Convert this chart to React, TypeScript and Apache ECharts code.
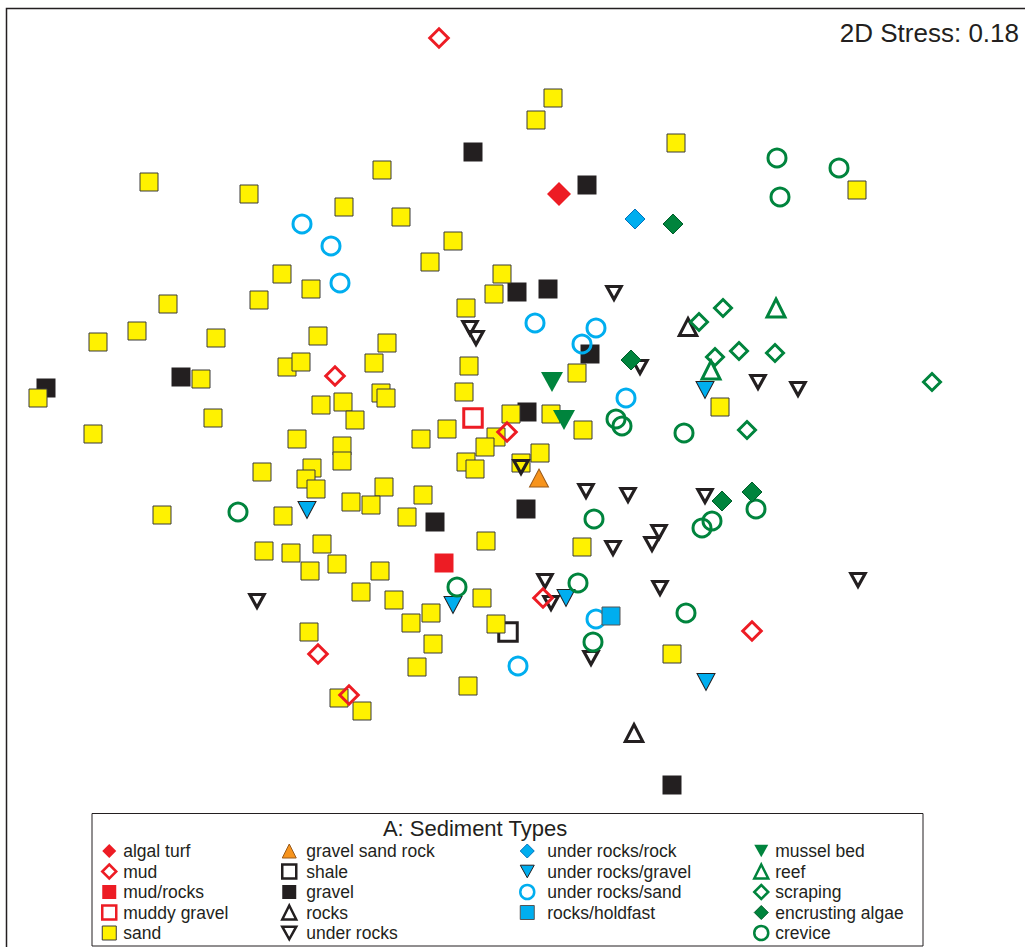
import React, { useEffect, useRef } from "react";
import * as echarts from "echarts";

const FONT = '"Liberation Sans", Arial, Helvetica, sans-serif';
const INK = "#231f20";
const RED = "#ed1c24";
const YELLOW = "#fff200";
const ORANGE = "#f7941d";
const CYAN = "#00aeef";
const GREEN = "#00843d";
const DOWN = "path://M0,0L20,0L10,18Z";

// ---- data (nMDS ordination coordinates, plot units; y grows downward) ----
const stressLabel = "2D Stress: 0.18";
const legendTitle = "A: Sediment Types";

const algalTurf = [[559, 194]];
const mud = [[439, 38], [335, 376], [507, 432], [543, 598], [318, 654], [349, 695], [752, 631]];
const mudRocks = [[444, 563]];
const muddyGravel = [[473, 418]];
const sand = [
  [553, 98], [536, 120], [676, 143], [857, 190], [149, 182], [249, 194], [382, 170], [344, 207],
  [401, 217], [453, 241], [430, 262], [502, 274], [494, 294], [466, 308], [282, 274], [311, 289],
  [259, 300], [168, 304], [137, 331], [98, 342], [216, 338], [318, 336], [387, 343], [287, 367],
  [301, 362], [374, 363], [469, 366], [201, 379], [38, 398], [464, 392], [381, 393], [386, 398],
  [321, 405], [343, 402], [355, 420], [213, 418], [93, 434], [297, 439], [421, 439], [447, 429],
  [342, 446], [342, 461], [511, 414], [496, 437], [485, 447], [466, 462], [475, 469], [262, 472],
  [312, 468], [306, 479], [316, 489], [283, 516], [384, 487], [351, 502], [371, 505], [423, 495],
  [407, 517], [486, 541], [322, 544], [291, 553], [264, 551], [162, 515], [577, 373], [551, 414],
  [583, 430], [540, 453], [521, 463], [582, 547], [720, 407], [310, 571], [337, 564], [380, 571],
  [361, 592], [394, 600], [482, 598], [431, 613], [411, 623], [496, 624], [309, 632], [433, 644],
  [417, 667], [468, 686], [339, 698], [362, 711], [672, 654],
];
const gravelSandRock = [[539, 478]];
const shale = [[508, 632]];
const gravel = [
  [473, 152], [587, 185], [517, 292], [548, 289], [590, 354], [181, 377], [46, 388], [527, 412],
  [526, 509], [435, 522], [672, 785],
];
const rocks = [[688, 327], [634, 733]];
const underRocks = [
  [614, 293], [470, 328], [476, 338], [640, 367], [758, 382], [798, 389], [521, 467], [586, 491],
  [628, 495], [705, 496], [659, 532], [652, 544], [613, 548], [545, 581], [551, 603], [660, 588],
  [591, 658], [257, 601], [858, 580],
];
const underRocksRock = [[635, 219]];
const underRocksGravel = [[307, 510], [705, 390], [453, 605], [566, 598], [706, 682]];
const underRocksSand = [
  [302, 224], [331, 246], [340, 283], [535, 323], [596, 328], [582, 344], [626, 398], [596, 619], [518, 666],
];
const rocksHoldfast = [[611, 616]];
const musselBed = [[552, 382], [564, 420]];
const reef = [[711, 370], [776, 308]];
const scraping = [[699, 322], [723, 308], [715, 357], [739, 351], [775, 353], [747, 430], [932, 382]];
const encrustingAlgae = [[673, 224], [631, 360], [722, 501], [752, 492]];
const crevice = [
  [777, 158], [839, 168], [780, 197], [616, 419], [622, 426], [684, 433], [594, 519], [756, 509],
  [712, 521], [702, 528], [238, 512], [457, 587], [578, 583], [593, 642], [686, 613],
];

const dataByName: Record<string, number[][]> = {
  "algal turf": algalTurf,
  mud: mud,
  "mud/rocks": mudRocks,
  "muddy gravel": muddyGravel,
  sand: sand,
  "gravel sand rock": gravelSandRock,
  shale: shale,
  gravel: gravel,
  rocks: rocks,
  "under rocks": underRocks,
  "under rocks/rock": underRocksRock,
  "under rocks/gravel": underRocksGravel,
  "under rocks/sand": underRocksSand,
  "rocks/holdfast": rocksHoldfast,
  "mussel bed": musselBed,
  reef: reef,
  scraping: scraping,
  "encrusting algae": encrustingAlgae,
  crevice: crevice,
};

// ---- styles ----
type MS = { symbol: string; size: number | number[]; color: string; borderColor?: string; borderWidth?: number };
const T = "rgba(255,255,255,0)";
const markStyle: Record<string, MS> = {
  "algal turf": { symbol: "diamond", size: 24, color: RED },
  mud: { symbol: "diamond", size: 18.5, color: T, borderColor: RED, borderWidth: 3 },
  "mud/rocks": { symbol: "rect", size: 19, color: RED },
  "muddy gravel": { symbol: "rect", size: 18.5, color: T, borderColor: RED, borderWidth: 3 },
  sand: { symbol: "rect", size: 18, color: YELLOW, borderColor: "#3a3a3a", borderWidth: 1 },
  "gravel sand rock": { symbol: "triangle", size: [19, 18], color: ORANGE, borderColor: "#9a5a1a", borderWidth: 1 },
  shale: { symbol: "rect", size: 18.5, color: T, borderColor: INK, borderWidth: 3 },
  gravel: { symbol: "rect", size: 19, color: INK },
  rocks: { symbol: "triangle", size: [17.5, 17], color: T, borderColor: INK, borderWidth: 3 },
  "under rocks": { symbol: DOWN, size: [14.5, 13], color: T, borderColor: INK, borderWidth: 3 },
  "under rocks/rock": { symbol: "diamond", size: 20, color: CYAN, borderColor: "#0072bc", borderWidth: 1 },
  "under rocks/gravel": { symbol: DOWN, size: [18, 17], color: CYAN, borderColor: INK, borderWidth: 1 },
  "under rocks/sand": { symbol: "circle", size: 18, color: T, borderColor: CYAN, borderWidth: 3 },
  "rocks/holdfast": { symbol: "rect", size: 18, color: CYAN, borderColor: "#555", borderWidth: 1 },
  "mussel bed": { symbol: DOWN, size: [22, 20], color: GREEN },
  reef: { symbol: "triangle", size: [18, 18], color: T, borderColor: GREEN, borderWidth: 3 },
  scraping: { symbol: "diamond", size: 17, color: T, borderColor: GREEN, borderWidth: 3 },
  "encrusting algae": { symbol: "diamond", size: 20, color: GREEN, borderColor: "#005c2a", borderWidth: 1 },
  crevice: { symbol: "circle", size: 18, color: T, borderColor: GREEN, borderWidth: 3 },
};

const drawOrder = [
  "shale", "gravel", "sand", "mud/rocks", "muddy gravel", "gravel sand rock", "rocks", "under rocks",
  "algal turf", "mud", "under rocks/rock", "under rocks/sand", "under rocks/gravel", "rocks/holdfast",
  "crevice", "mussel bed", "reef", "scraping", "encrusting algae",
];

const legendColumns = [
  { names: ["algal turf", "mud", "mud/rocks", "muddy gravel", "sand"], marker: 108, text: 122 },
  { names: ["gravel sand rock", "shale", "gravel", "rocks", "under rocks"], marker: 288, text: 305 },
  { names: ["under rocks/rock", "under rocks/gravel", "under rocks/sand", "rocks/holdfast"], marker: 526, text: 546 },
  { names: ["mussel bed", "reef", "scraping", "encrusting algae", "crevice"], marker: 760, text: 774 },
];

export default function App() {
  const ref = useRef<HTMLDivElement>(null);
  useEffect(() => {
    if (!ref.current) return;
    const chart = echarts.init(ref.current, undefined, { renderer: "svg" });
    const ICON = 14;
    const legends = legendColumns.map((col) => ({
      orient: "vertical",
      left: col.marker - ICON / 2,
      top: 840.75,
      itemWidth: ICON,
      itemHeight: ICON,
      itemGap: 0,
      padding: 0,
      selectedMode: false,
      textStyle: {
        fontFamily: FONT,
        fontSize: 17.5,
        color: INK,
        lineHeight: 20.5,
        padding: [0, 0, 0, Math.max(0, col.text - (col.marker + ICON / 2 + 5))],
      },
      data: col.names.map((n) => {
        const s = markStyle[n];
        const open = s.color === T;
        return {
          name: n,
          icon: s.symbol,
          itemStyle: {
            color: open ? "#fff" : s.color,
            borderColor: s.borderColor || s.color,
            borderWidth: s.borderWidth ? (s.borderWidth >= 3 ? 2.5 : 1) : 0,
          },
        };
      }),
    }));

    const option: any = {
      animation: false,
      backgroundColor: "#ffffff",
      grid: { left: 0, right: 0, top: 0, bottom: 0 },
      xAxis: { type: "value", min: 0, max: 1025, show: false },
      yAxis: { type: "value", min: 0, max: 947, inverse: true, show: false },
      legend: legends,
      series: drawOrder.map((n) => {
        const s = markStyle[n];
        return {
          type: "scatter",
          name: n,
          data: dataByName[n],
          symbol: s.symbol,
          symbolSize: s.size,
          silent: true,
          itemStyle: {
            color: s.color,
            borderColor: s.borderColor || s.color,
            borderWidth: s.borderWidth || 0,
            opacity: 1,
          },
        };
      }),
      graphic: [
        {
          type: "rect",
          silent: true,
          z: 0,
          shape: { x: 6.5, y: 8.5, width: 1040, height: 980 },
          style: { fill: "none", stroke: INK, lineWidth: 1.5 },
        },
        {
          type: "rect",
          silent: true,
          z: 0,
          shape: { x: 92, y: 813.5, width: 831, height: 132.5 },
          style: { fill: "none", stroke: INK, lineWidth: 1 },
        },
        {
          type: "text",
          silent: true,
          x: 1019,
          y: 32.7,
          style: {
            text: stressLabel,
            fill: INK,
            font: `26px ${FONT}`,
            align: "right",
            verticalAlign: "middle",
            textAlign: "right",
            textVerticalAlign: "middle",
          },
        },
        {
          type: "text",
          silent: true,
          x: 475,
          y: 828,
          style: {
            text: legendTitle,
            fill: INK,
            font: `22px ${FONT}`,
            align: "center",
            verticalAlign: "middle",
            textAlign: "center",
            textVerticalAlign: "middle",
          },
        },
      ],
    };
    chart.setOption(option);
    return () => chart.dispose();
  }, []);
  return (
    <div
      ref={ref}
      style={{ position: "absolute", left: 0, top: 0, width: 1025, height: 947, background: "#fff" }}
    />
  );
}
